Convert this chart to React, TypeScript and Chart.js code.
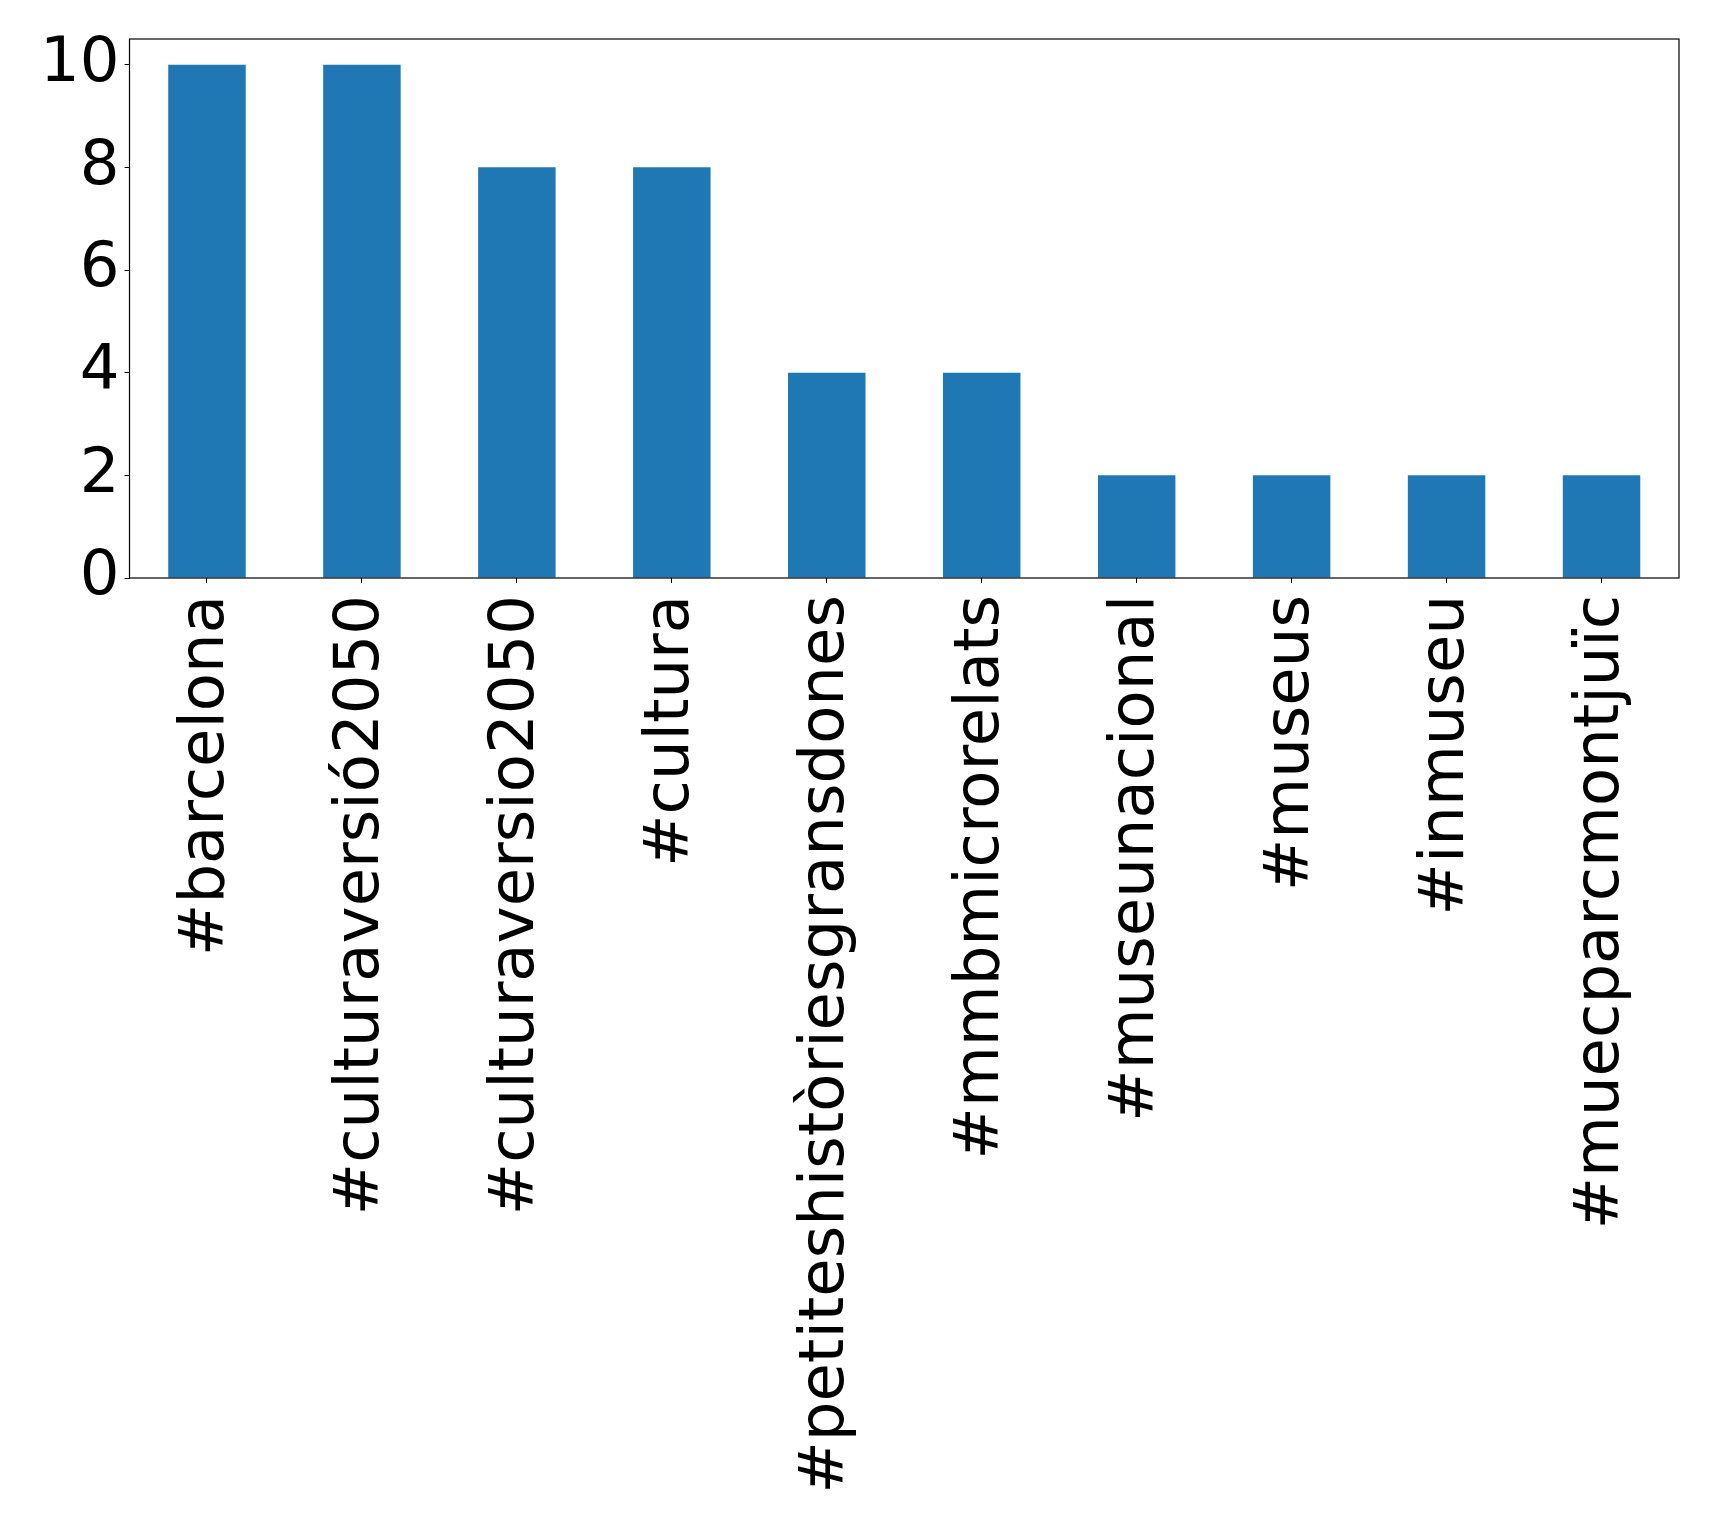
import React, { useEffect, useRef } from "react";
import { Chart, registerables } from "chart.js";

Chart.register(...registerables);

const categories = [
  "#barcelona",
  "#culturaversió2050",
  "#culturaversio2050",
  "#cultura",
  "#petiteshistòriesgransdones",
  "#mmbmicrorelats",
  "#museunacional",
  "#museus",
  "#inmuseu",
  "#muecparcmontjuïc",
];
const counts = [10, 10, 8, 8, 4, 4, 2, 2, 2, 2];
const yTicks = [0, 2, 4, 6, 8, 10];

const W = 1719;
const H = 1526;
const FONT = "'DejaVu Sans', sans-serif";

const framePlugin = {
  id: "frame",
  afterDraw(chart: any) {
    const { ctx, chartArea } = chart;
    ctx.save();
    ctx.strokeStyle = "#000";
    ctx.lineWidth = 1.2;
    ctx.strokeRect(chartArea.left, chartArea.top, chartArea.right - chartArea.left, chartArea.bottom - chartArea.top);
    ctx.restore();
  },
};

export default function App() {
  const ref = useRef<HTMLCanvasElement | null>(null);
  useEffect(() => {
    document.body.style.margin = "0";
    const chart = new Chart(ref.current!, {
      type: "bar",
      data: {
        labels: categories,
        datasets: [
          {
            data: counts,
            backgroundColor: "#1f77b4",
            barPercentage: 0.5,
            categoryPercentage: 1,
          },
        ],
      },
      options: {
        responsive: false,
        animation: false,
        devicePixelRatio: 1,
        layout: { padding: { left: 0, top: 39, right: 40, bottom: 0 } },
        plugins: { legend: { display: false }, tooltip: { enabled: false } },
        scales: {
          x: {
            offset: true,
            grid: { offset: false, drawOnChartArea: false, drawTicks: true, tickLength: 5, tickColor: "#000" },
            border: { display: false },
            ticks: {
              autoSkip: false,
              maxRotation: 90,
              minRotation: 90,
              padding: 12,
              color: "#000",
              font: { family: FONT, size: 62.5 },
            },
            afterFit: (s: any) => {
              s.height = H - 578;
            },
          },
          y: {
            min: 0,
            max: 10.5,
            grid: { drawOnChartArea: false, drawTicks: true, tickLength: 5, tickColor: "#000" },
            border: { display: false },
            afterBuildTicks: (s: any) => {
              s.ticks = yTicks.map((v) => ({ value: v }));
            },
            ticks: {
              includeBounds: false,
              padding: 5,
              color: "#000",
              font: { family: FONT, size: 62.5, lineHeight: 1 },
            },
            afterFit: (s: any) => {
              s.width = 129.5;
            },
          },
        },
      },
      plugins: [framePlugin],
    });
    return () => chart.destroy();
  }, []);
  return (
    <div style={{ position: "absolute", left: 0, top: 0, width: W, height: H, background: "#fff" }}>
      <canvas ref={ref} width={W} height={H} style={{ width: W, height: H }} />
    </div>
  );
}
